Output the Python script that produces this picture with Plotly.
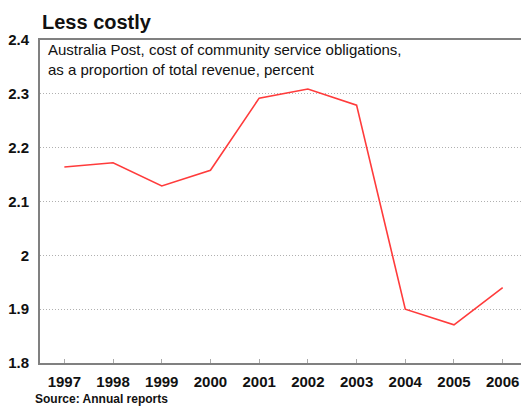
import plotly.graph_objects as go

years = [1997, 1998, 1999, 2000, 2001, 2002, 2003, 2004, 2005, 2006]
values = [2.164, 2.172, 2.129, 2.158, 2.292, 2.309, 2.279, 1.900, 1.871, 1.940]
y_ticks = [1.8, 1.9, 2.0, 2.1, 2.2, 2.3, 2.4]
y_tick_labels = ["1.8", "1.9", "2", "2.1", "2.2", "2.3", "2.4"]

title = "Less costly"
subtitle = "Australia Post, cost of community service obligations,<br>as a proportion of total revenue, percent"
source = "Source: Annual reports"

font = "Liberation Sans, Arial, sans-serif"

fig = go.Figure()
fig.add_trace(go.Scatter(x=years, y=values, mode="lines",
                         line=dict(color="#ff3b3b", width=1.6), hoverinfo="skip"))

fig.update_layout(
    width=521, height=407,
    margin=dict(l=40, r=0, t=40, b=44),
    paper_bgcolor="white", plot_bgcolor="white",
    showlegend=False,
    font=dict(family=font, color="#111"),
)
fig.update_xaxes(
    range=[1996.5, 2006.376], tickmode="array", tickvals=years,
    ticktext=[str(y) for y in years],
    showgrid=False, zeroline=False,
    showline=True, linecolor="#808080", linewidth=2, mirror=True,
    ticks="inside", ticklen=4, tickcolor="#aaa", tickwidth=1,
    tickfont=dict(family=font, size=15, color="#111", weight="bold"),
    ticklabelstandoff=4,
)
fig.update_yaxes(
    range=[1.8, 2.4], tickmode="array", tickvals=y_ticks, ticktext=y_tick_labels,
    showgrid=True, gridcolor="#b0b0b0", griddash="1px,2px", gridwidth=1,
    zeroline=False,
    showline=True, linecolor="#808080", linewidth=2,
    ticks="", tickfont=dict(family=font, size=15, color="#111", weight="bold"),
    ticklabelstandoff=6,
)

fig.add_annotation(text=title, xref="paper", yref="paper", x=0, y=1.056,
                   xanchor="left", yanchor="middle", showarrow=False,
                   font=dict(family=font, size=20, color="#111", weight="bold"))
fig.add_annotation(text=subtitle, xref="paper", yref="paper", x=0.0125, y=0.9395,
                   xanchor="left", yanchor="middle", align="left", showarrow=False,
                   font=dict(family=font, size=15, color="#111"))
fig.add_annotation(text=source, xref="paper", yref="paper", x=-0.014, y=-0.111,
                   xanchor="left", yanchor="middle", showarrow=False,
                   font=dict(family=font, size=12, color="#111", weight="bold"))

fig.write_html("out.html")
